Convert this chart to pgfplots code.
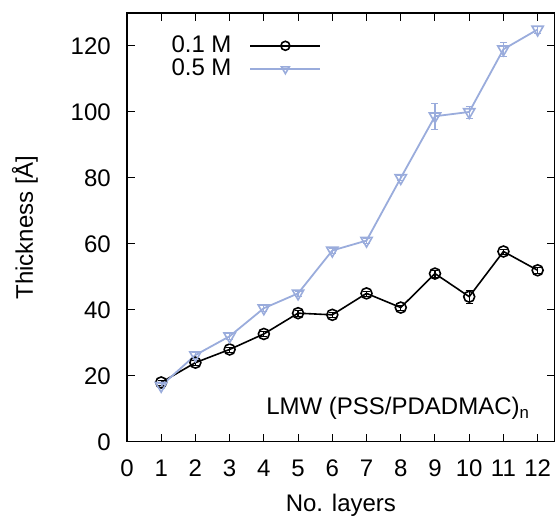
\documentclass[border=0pt]{standalone}
\usepackage{pgfplots}
\pgfplotsset{compat=1.18}
\usepackage{fontspec}
\setmainfont{Liberation Sans}
\definecolor{lblue}{HTML}{9AACDC}
\begin{document}
\fontsize{24}{28}\selectfont
\begin{tikzpicture}
\begin{axis}[
  scale only axis, width=428pt, height=429pt,
  xmin=0, xmax=12.5, ymin=0, ymax=130,
  xtick={0,1,...,12}, ytick={0,20,...,120},
  tick align=inside, tick pos=both,
  major tick length=8pt,
  /pgf/number format/assume math mode=true,
  ticklabel style={font=\fontsize{24}{28}\selectfont},
  label style={font=\fontsize{24}{28}\selectfont},
  xticklabel style={yshift=-10pt},
  yticklabel style={xshift=-8pt},
  xlabel={No. layers}, ylabel={Thickness [Å]},
  xlabel style={at={(axis description cs:0.5,-0.1632)}, anchor=base},
  ylabel style={at={(axis description cs:-0.2196,0.5)}, anchor=base},
  axis line style={line width=1.2pt},
  every tick/.style={black, line width=1pt},
  legend style={draw=none, fill=none, at={(axis description cs:0.092,0.957)}, anchor=north west,
    font=\fontsize{24}{28}\selectfont, row sep=-1pt, column sep=16pt, nodes={inner sep=2pt}},
  legend plot pos=right,
  legend cell align=right,
  legend image code/.code={\draw[#1] (0pt,0pt) -- (70pt,0pt); \draw[#1, only marks, mark size=4.5pt] plot coordinates {(35pt,0pt)};},
]
\addplot[black, line width=1.6pt, mark=o, mark size=5.5pt, mark options={line width=1.6pt},
  error bars/.cd, y dir=both, y explicit, error bar style={line width=1.2pt}, error mark options={rotate=90, mark size=3.5pt}]
 coordinates {
 (1,18) +- (0,0.8) (2,24) +- (0,0.8) (3,28) +- (0,0.8) (4,32.7) +- (0,0.8) (5,39) +- (0,0.8) (6,38.5) +- (0,0.8)
 (7,45) +- (0,0.8) (8,40.7) +- (0,0.8) (9,51) +- (0,1) (10,44) +- (0,2) (11,57.7) +- (0,0.8) (12,52) +- (0,0.8)};
\addlegendentry{0.1 M}
\addplot[lblue, line width=1.8pt, mark=triangle, mark size=6.5pt, mark options={rotate=180, line width=1.6pt},
  error bars/.cd, y dir=both, y explicit, error bar style={lblue, line width=1.2pt}, error mark options={lblue, rotate=90, mark size=3.5pt}]
 coordinates {
 (1,17) +- (0,0.8) (2,26.3) +- (0,0.8) (3,32) +- (0,0.8) (4,40.5) +- (0,0.8) (5,45) +- (0,0.8) (6,58) +- (0,0.8)
 (7,61) +- (0,0.8) (8,80) +- (0,0.8) (9,98.7) +- (0,4) (10,100) +- (0,1.8) (11,119) +- (0,2) (12,125) +- (0,1)};
\addlegendentry{0.5 M}
\node[anchor=base east, font=\fontsize{24}{28}\selectfont] at (axis cs:12.0,8.2) {LMW (PSS/PDADMAC)\textsubscript{n}};
\end{axis}
\path ([xshift=-127pt,yshift=-76pt]current axis.south west);
\path ([xshift=4pt,yshift=13pt]current axis.north east);
\end{tikzpicture}
\end{document}
